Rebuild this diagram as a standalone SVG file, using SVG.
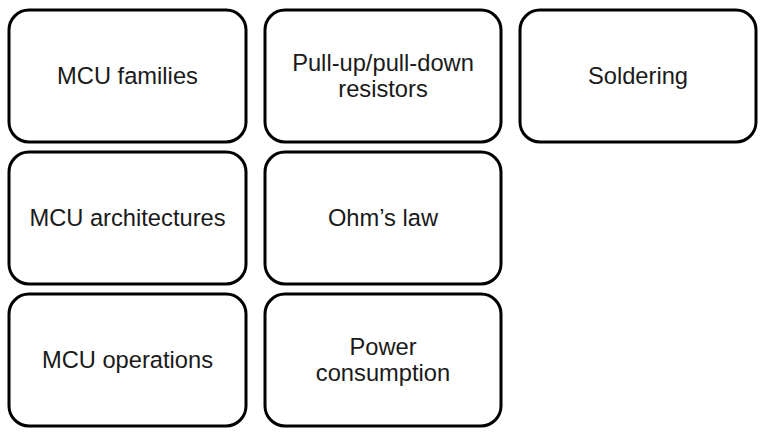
<svg xmlns="http://www.w3.org/2000/svg" width="771" height="435" viewBox="0 0 771 435">
<style>
.b{fill:#fff;stroke:#000;stroke-width:3}
.t{font-family:"Liberation Sans",Arial,sans-serif;font-size:23.7px;fill:#1a1a1a;text-anchor:middle}
</style>
<rect width="771" height="435" fill="#fff"/>
<g id="mcu-families"><rect class="b" x="9" y="10" width="237" height="132" rx="20"/><text class="t" x="127.5" y="84">MCU families</text></g>
<g id="pullup"><rect class="b" x="265" y="10" width="236" height="132" rx="20"/><text class="t" x="383" y="71">Pull-up/pull-down</text><text class="t" x="383" y="97">resistors</text></g>
<g id="soldering"><rect class="b" x="520" y="10" width="236" height="132" rx="20"/><text class="t" x="638" y="84">Soldering</text></g>
<g id="mcu-arch"><rect class="b" x="9" y="152" width="237" height="132" rx="20"/><text class="t" x="127.5" y="226">MCU architectures</text></g>
<g id="ohm"><rect class="b" x="265" y="152" width="236" height="132" rx="20"/><text class="t" x="383" y="226">Ohm’s law</text></g>
<g id="mcu-ops"><rect class="b" x="9" y="294" width="237" height="132" rx="20"/><text class="t" x="127.5" y="368">MCU operations</text></g>
<g id="power"><rect class="b" x="265" y="294" width="236" height="132" rx="20"/><text class="t" x="383" y="355">Power</text><text class="t" x="383" y="381">consumption</text></g>
<g id="connectors"></g>
</svg>
